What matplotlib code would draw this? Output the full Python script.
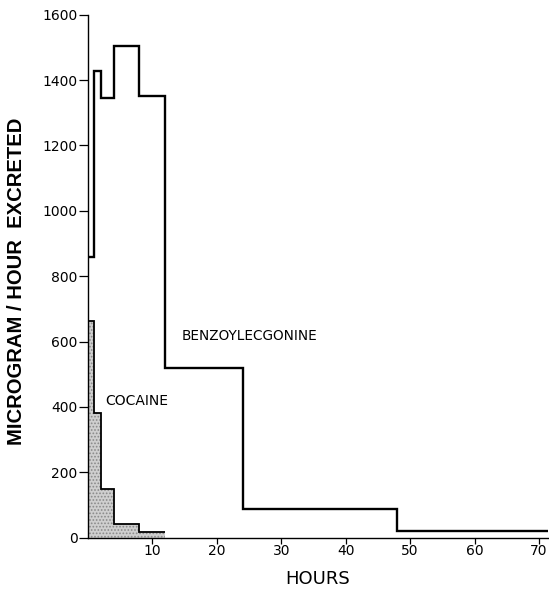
import matplotlib
matplotlib.use("Agg")
import matplotlib.pyplot as plt
import numpy as np

# Data
benzo_edges = [0, 1, 2, 4, 8, 12, 24, 48, 72]
benzo_values = [858, 1428, 1346, 1505, 1352, 519, 89, 20]
cocaine_edges = [0, 1, 2, 4, 8, 12]
cocaine_values = [663, 380, 149, 42, 16]
xticks = [10, 20, 30, 40, 50, 60, 70]
yticks = [0, 200, 400, 600, 800, 1000, 1200, 1400, 1600]

plt.rcParams['font.family'] = ['DejaVu Sans']
plt.rcParams['hatch.linewidth'] = 0.8

fig = plt.figure(figsize=(5.49, 5.89), dpi=100)
ax = fig.add_axes([87.85/549, 51.3/589, (548-87.85)/549, 523/589])

# cocaine filled bars (stippled)
ce = np.array(cocaine_edges, dtype=float)
ax.bar(ce[:-1], cocaine_values, width=np.diff(ce), align='edge',
       facecolor='#cfcfcf', edgecolor='#8a8a8a', hatch='.....', linewidth=0, zorder=1)
ax.stairs(cocaine_values, cocaine_edges, color='black', linewidth=1.3, baseline=None, zorder=2)

# benzoylecgonine outline
ax.stairs(benzo_values, benzo_edges, color='black', linewidth=1.7, baseline=None, zorder=3)

ax.set_xlim(0, 71.4)
ax.set_ylim(0, 1600)
ax.set_xticks(xticks)
ax.set_yticks(yticks)
ax.spines['top'].set_visible(False)
ax.spines['right'].set_visible(False)
ax.spines['left'].set_linewidth(1.0)
ax.spines['bottom'].set_linewidth(1.0)
ax.tick_params(axis='y', direction='out', length=6.5, width=0.9, pad=1, labelsize=10)
ax.tick_params(axis='x', direction='out', length=4.0, width=0.9, pad=0.5, labelsize=10)

ax.set_xlabel('HOURS', fontsize=13, labelpad=9)
fig.text(17/549, 1 - 281.5/589, 'MICROGRAM / HOUR  EXCRETED', rotation=90,
         ha='center', va='center', fontsize=14.6, fontweight='bold',
         family=['Liberation Sans', 'DejaVu Sans'])

ax.text(14.6, 616, 'BENZOYLECGONINE', fontsize=9.8, va='center', ha='left')
ax.text(2.67, 418, 'COCAINE', fontsize=10, va='center', ha='left')

fig.savefig('out.png', dpi=100)
